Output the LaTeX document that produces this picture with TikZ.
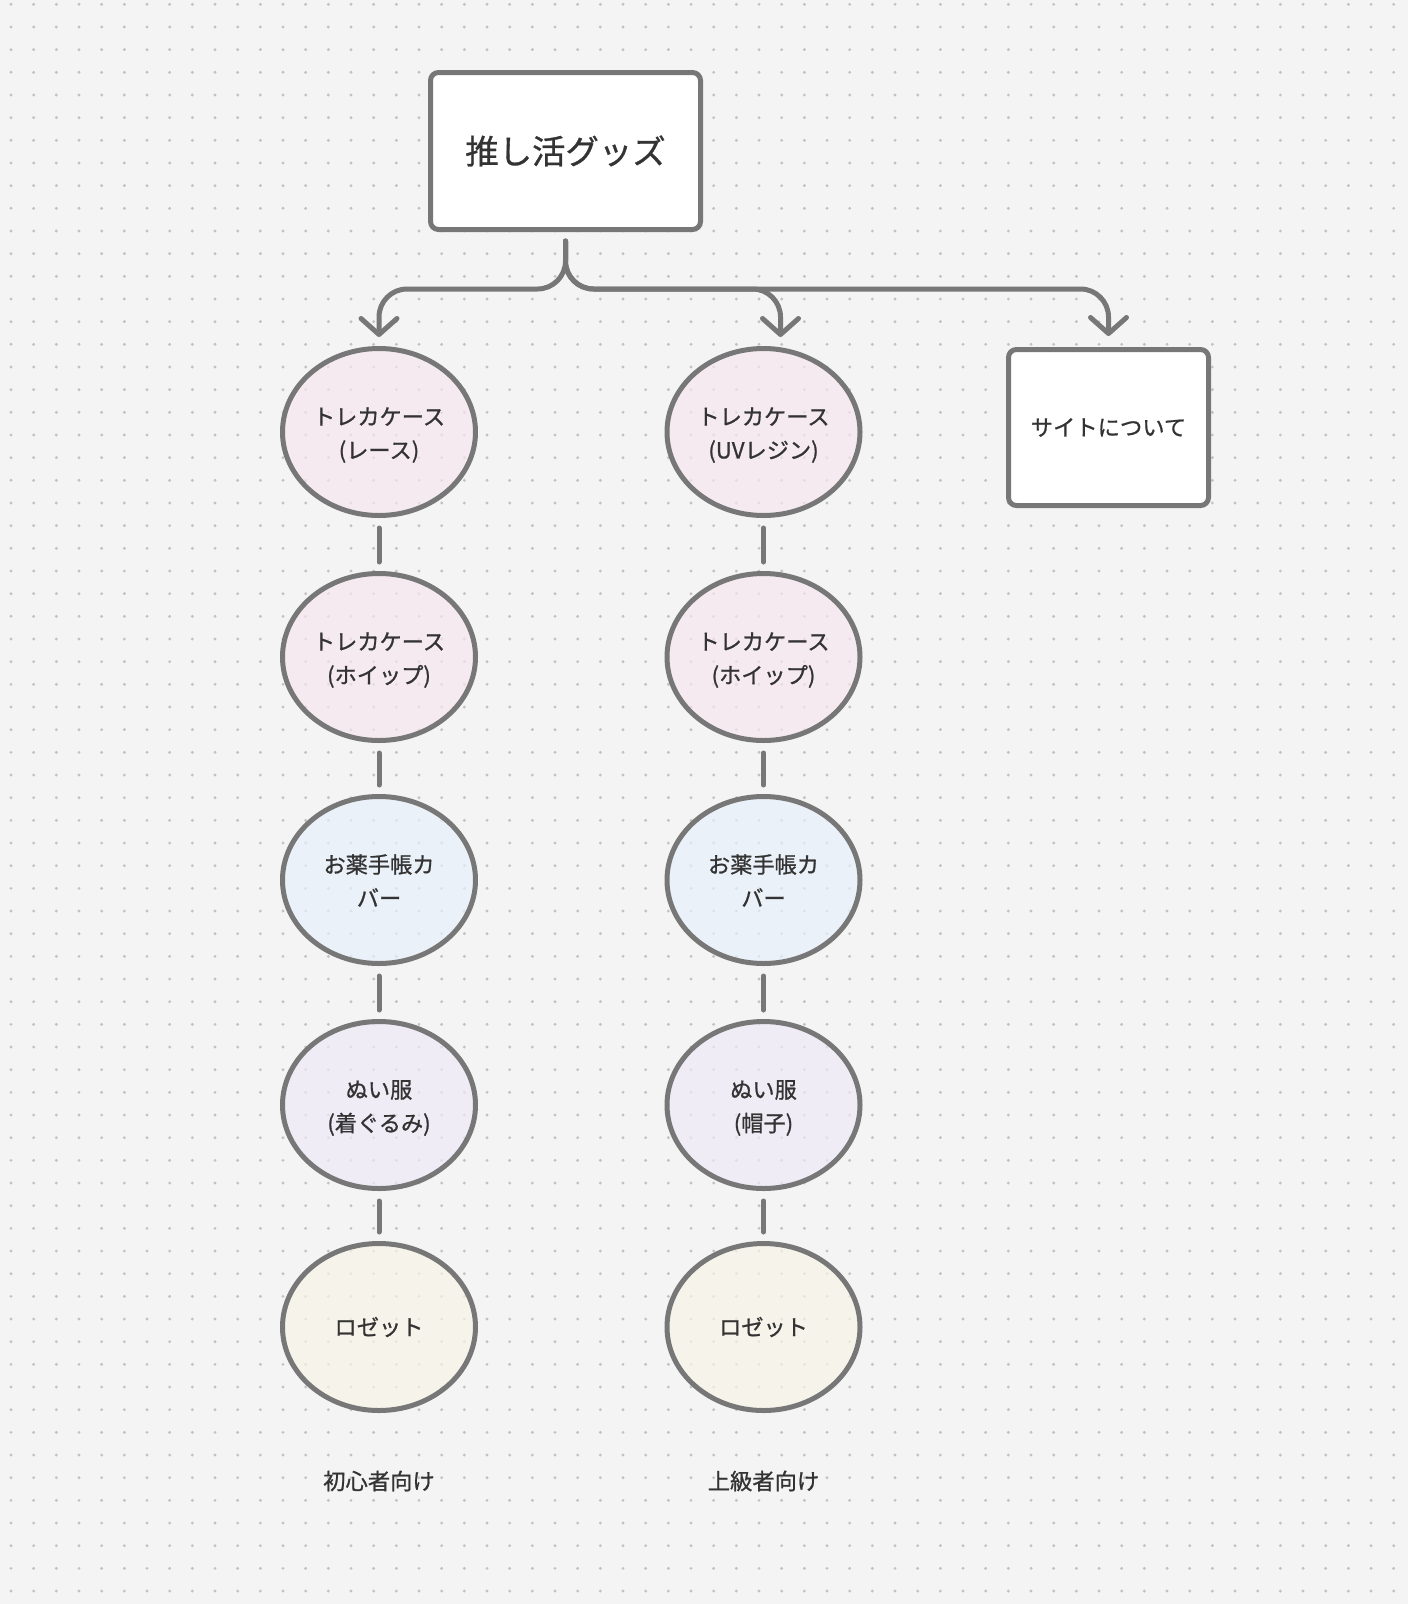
\documentclass[tikz,border=0pt]{standalone}
\usepackage{fontspec}
\setmainfont{Noto Sans CJK JP}[RawFeature={embolden=0.9}]
\usetikzlibrary{shapes.geometric,arrows.meta,calc}
\definecolor{bg}{HTML}{F4F4F4}
\definecolor{dotc}{HTML}{C2C2C2}
\definecolor{edge}{HTML}{777777}
\definecolor{ink}{HTML}{333333}
\definecolor{pinkf}{RGB}{247,230,241}
\definecolor{bluef}{RGB}{230,241,251}
\definecolor{lavf}{RGB}{237,233,248}
\definecolor{creamf}{RGB}{248,244,230}
\newcommand\twoline[2]{\raisebox{-3pt}[\height][\depth]{\begin{tabular}{@{}c@{}}#1\\#2\end{tabular}}}
\tikzset{
  oval/.style={ellipse, draw=edge, line width=5pt, minimum width=193pt, minimum height=167pt,
    inner sep=0pt, fill opacity=0.7, text opacity=1, draw opacity=1, align=center, text=ink,
    font=\fontsize{22.2}{33.5}\selectfont},
  card/.style={rectangle, rounded corners=8pt, draw=edge, fill=white, line width=5pt,
    inner sep=0pt, align=center, text=ink},
  link/.style={draw=edge, line width=5pt, line cap=round, shorten <=10pt, shorten >=9pt},
  arrowlink/.style={draw=edge, line width=5pt, line cap=round, line join=round, rounded corners=28pt,
    -{Straight Barb[length=16pt,width=36pt,round]}},
  caption/.style={text=ink, inner sep=0pt, font=\fontsize{22.3}{26}\selectfont}
}
\begin{document}
\begin{tikzpicture}[x=1pt,y=-1pt]
\fill[bg] (0,0) rectangle (1408,1604);
\useasboundingbox (0,0) rectangle (1408,1604);
\foreach \i in {0,...,61}{
  \foreach \j in {0,...,70}{
    \fill[dotc] ({11+22.667*\i},{4.33+22.667*\j}) circle (1.6pt);
  }
}
% top node
\node[card, minimum width=270pt, minimum height=157pt, font=\fontsize{33.4}{40}\selectfont] (top) at (565.5,151) {推し活グッズ};
\node[card, minimum width=200pt, minimum height=156pt, font=\fontsize{22.3}{26}\selectfont] (site) at (1108.5,427.5) {サイトについて};
% left column
\node[oval, fill=pinkf] (e11) at (379,432) {\twoline{トレカケース}{(レース)}};
\node[oval, fill=pinkf] (e12) at (379,657) {\twoline{トレカケース}{(ホイップ)}};
\node[oval, fill=bluef] (e13) at (379,880) {\twoline{お薬手帳カ}{バー}};
\node[oval, fill=lavf] (e14) at (379,1105) {\twoline{ぬい服}{(着ぐるみ)}};
\node[oval, fill=creamf] (e15) at (379,1327) {ロゼット};
% right column
\node[oval, fill=pinkf] (e21) at (763.5,432) {\twoline{トレカケース}{(UVレジン)}};
\node[oval, fill=pinkf] (e22) at (763.5,657) {\twoline{トレカケース}{(ホイップ)}};
\node[oval, fill=bluef] (e23) at (763.5,880) {\twoline{お薬手帳カ}{バー}};
\node[oval, fill=lavf] (e24) at (763.5,1105) {\twoline{ぬい服}{(帽子)}};
\node[oval, fill=creamf] (e25) at (763.5,1327) {ロゼット};
% captions
\node[caption] (lab1) at (379,1481) {初心者向け};
\node[caption] (lab2) at (763.5,1481) {上級者向け};
% fork connectors
\coordinate (fork) at (565.5,289);
\coordinate (mid) at ($(e21.north)+(17,0)$);
\draw[arrowlink, shorten <=9pt, shorten >=9pt] (top.south) -- (top.south |- fork) -| (e11.north);
\draw[arrowlink, shorten <=9pt, shorten >=9pt] (top.south) -- (top.south |- fork) -| (mid);
\draw[arrowlink, shorten <=9pt, shorten >=11pt] (top.south) -- (top.south |- fork) -| (site.north);
% column links
\draw[link] (e11) -- (e12);
\draw[link] (e12) -- (e13);
\draw[link] (e13) -- (e14);
\draw[link] (e14) -- (e15);
\draw[link] (e21) -- (e22);
\draw[link] (e22) -- (e23);
\draw[link] (e23) -- (e24);
\draw[link] (e24) -- (e25);
\end{tikzpicture}
\end{document}
